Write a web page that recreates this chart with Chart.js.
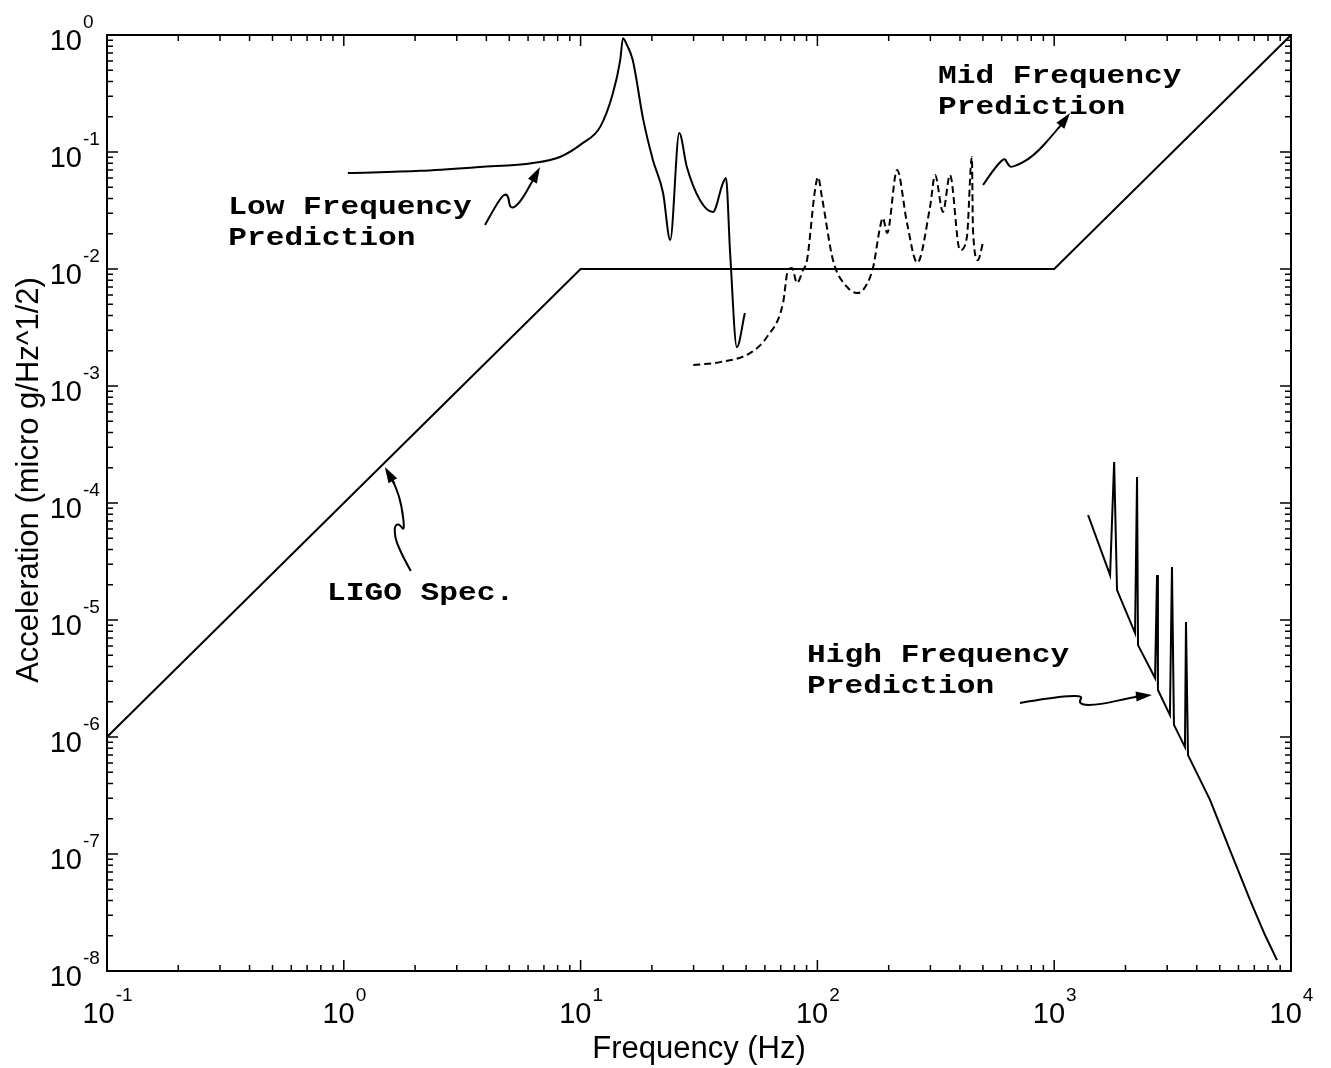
<!DOCTYPE html>
<html>
<head>
<meta charset="utf-8">
<script src="https://cdn.jsdelivr.net/npm/chart.js@4.4.1/dist/chart.umd.min.js"></script>
<style>
  body { margin: 0; background: #fff; }
  #wrap { width: 1331px; height: 1068px; }
</style>
</head>
<body>
<div id="wrap"><canvas id="psdChart" width="1331" height="1068"></canvas></div>
<script>
// LIGO spec line
const ligoFreq = [0.1, 10, 1000, 10000];
const ligoAcc = [1e-6, 1e-2, 1e-2, 1];

// low frequency prediction (solid)
const lowFreq = [1.04, 2.1, 3.76, 6.3, 8.18, 10.2, 12.1, 13.7, 14.7, 15.1, 15.7, 16.6, 18.4, 20.2, 22.3, 23.9, 26.1, 28.1, 31.9, 36.2, 39.9, 41.1, 42.8, 45.7, 49.4];
const lowAcc = [0.066, 0.069, 0.0744, 0.0805, 0.0906, 0.119, 0.164, 0.319, 0.611, 0.94, 0.82, 0.611, 0.188, 0.0855, 0.0446, 0.0177, 0.145, 0.0744, 0.0389, 0.0307, 0.0543, 0.060, 0.0137, 0.00215, 0.0042];

// mid frequency prediction (dashed)
const midFreq = [29.9, 38.8, 51.9, 61.2, 71.6, 75.1, 78.1, 82.0, 86.9, 90.4, 97.7, 100.6, 104.5, 116.4, 133.4, 147, 156, 172, 184, 189, 197, 217, 239, 264, 299, 314, 339, 363, 400, 428, 449, 454, 476, 500];
const midAcc = [0.00151, 0.0016, 0.00191, 0.00262, 0.00512, 0.0098, 0.0102, 0.00759, 0.0098, 0.0119, 0.0473, 0.0611, 0.0412, 0.0119, 0.00702, 0.00624, 0.00662, 0.0104, 0.0229, 0.0273, 0.0203, 0.0702, 0.0247, 0.0113, 0.0339, 0.0636, 0.0307, 0.0636, 0.0145, 0.0188, 0.0906, 0.0216, 0.0119, 0.0167];

// high frequency prediction
const highFreq = [1390, 1722, 1791, 1842, 2195, 2238, 2259, 2666, 2718, 2742, 3081, 3143, 3204, 3566, 3602, 3673, 4550, 5525, 6710, 7765, 8730];
const highAcc = [7.9e-5, 2.42e-5, 2.24e-4, 1.8e-5, 7.74e-6, 1.67e-4, 6.1e-6, 3.19e-6, 2.42e-5, 2.52e-6, 1.54e-6, 2.84e-5, 1.27e-6, 8.2e-7, 9.6e-6, 7.0e-7, 2.9e-7, 1.08e-7, 4.05e-8, 2.03e-8, 1.24e-8];

// tick labels
const xTickValues = [0.1, 1, 10, 100, 1000, 10000];
const xTickExps = ['-1', '0', '1', '2', '3', '4'];
const yTickValues = [1, 1e-1, 1e-2, 1e-3, 1e-4, 1e-5, 1e-6, 1e-7, 1e-8];
const yTickExps = ['0', '-1', '-2', '-3', '-4', '-5', '-6', '-7', '-8'];

// annotations: text and arrow tip in data units
const noteLines = [
  ['Low Frequency', 'Prediction'],
  ['Mid Frequency', 'Prediction'],
  ['LIGO Spec.'],
  ['High Frequency', 'Prediction']
];
const noteTextAt = [[0.325, 0.0295], [323, 0.389], [0.849, 1.48e-5], [90.4, 4.38e-6]];
const noteTipAt = [[6.74, 0.0744], [1167, 0.2155], [1.49, 2.03e-4], [2588, 2.29e-6]];

const pts = (xs, ys) => xs.map((x, i) => ({x: x, y: ys[i]}));

// squiggle shapes, pixel offsets from tip
const squiggles = [
  [[-55, 58], [-40, 30], [-32, 26], [-30, 43], [-20, 36], [-7, 13], [0, 0]],
  [[-87, 72], [-67, 42], [-62, 52], [-58, 55], [-37, 44], [-13, 17], [0, 0]],
  [[26, 104], [12, 79], [9, 60], [14, 56], [20, 65], [17, 39], [11, 19], [0, 0]],
  [[-132, 8], [-67, -3], [-75, 10], [-52, 10], [-19, 2], [0, 0]]
];

const decor = {
  id: 'decor',
  afterDraw(chart) {
    const ctx = chart.ctx;
    const a = chart.chartArea;
    const xs = chart.scales.x, ys = chart.scales.y;
    ctx.save();
    ctx.strokeStyle = '#000';
    ctx.fillStyle = '#000';
    ctx.lineWidth = 2;
    ctx.strokeRect(a.left, a.top, a.right - a.left, a.bottom - a.top);

    // inward ticks on all four sides
    ctx.lineWidth = 1.5;
    ctx.beginPath();
    for (let d = -1; d <= 4; d++) {
      for (let k = 1; k <= 9; k++) {
        const v = k * Math.pow(10, d);
        if (v > 10000) break;
        const px = xs.getPixelForValue(v);
        const len = k === 1 ? 11 : 6;
        ctx.moveTo(px, a.bottom); ctx.lineTo(px, a.bottom - len);
        ctx.moveTo(px, a.top); ctx.lineTo(px, a.top + len);
      }
    }
    for (let d = -8; d <= 0; d++) {
      for (let k = 1; k <= 9; k++) {
        const v = k * Math.pow(10, d);
        if (v > 1) break;
        const py = ys.getPixelForValue(v);
        const len = k === 1 ? 11 : 6;
        ctx.moveTo(a.left, py); ctx.lineTo(a.left + len, py);
        ctx.moveTo(a.right, py); ctx.lineTo(a.right - len, py);
      }
    }
    ctx.stroke();

    // tick labels (10 with superscript)
    const baseFont = '29px "Liberation Sans", Arial, sans-serif';
    const expFont = '19px "Liberation Sans", Arial, sans-serif';
    ctx.textBaseline = 'alphabetic';
    xTickValues.forEach((v, i) => {
      const px = xs.getPixelForValue(v);
      ctx.font = baseFont;
      const w1 = ctx.measureText('10').width;
      ctx.font = expFont;
      const w2 = ctx.measureText(xTickExps[i]).width;
      const x0 = px - (w1 + w2) / 2;
      ctx.font = baseFont;
      ctx.textAlign = 'left';
      ctx.fillText('10', x0, a.bottom + 52);
      ctx.font = expFont;
      ctx.fillText(xTickExps[i], x0 + w1 + 1, a.bottom + 30);
    });
    yTickValues.forEach((v, i) => {
      const py = ys.getPixelForValue(v);
      ctx.font = baseFont;
      ctx.textAlign = 'right';
      ctx.fillText('10', a.left - 25, py + 15);
      ctx.font = expFont;
      ctx.textAlign = 'left';
      ctx.fillText(yTickExps[i], a.left - 24, py - 7);
    });

    // axis titles
    ctx.font = '31px "Liberation Sans", Arial, sans-serif';
    ctx.textAlign = 'center';
    ctx.fillText('Frequency (Hz)', (a.left + a.right) / 2, a.bottom + 87);
    ctx.save();
    ctx.translate(38, 480);
    ctx.rotate(-Math.PI / 2);
    ctx.fillText('Acceleration (micro g/Hz^1/2)', 0, 0);
    ctx.restore();

    // annotation text (typewriter style) and squiggly arrows
    ctx.font = 'bold 26px "Liberation Mono", "DejaVu Sans Mono", monospace';
    ctx.textAlign = 'left';
    noteLines.forEach((lines, i) => {
      const tx = xs.getPixelForValue(noteTextAt[i][0]);
      const ty = ys.getPixelForValue(noteTextAt[i][1]);
      lines.forEach((s, j) => {
        ctx.save();
        ctx.translate(tx, ty + j * 31);
        ctx.scale(1.2, 1);
        ctx.fillText(s, 0, 0);
        ctx.restore();
      });
      const tipX = xs.getPixelForValue(noteTipAt[i][0]);
      const tipY = ys.getPixelForValue(noteTipAt[i][1]);
      const path = squiggles[i];
      ctx.lineWidth = 2;
      ctx.beginPath();
      ctx.moveTo(tipX + path[0][0], tipY + path[0][1]);
      for (let k = 1; k < path.length - 1; k++) {
        const mx = (path[k][0] + path[k + 1][0]) / 2, my = (path[k][1] + path[k + 1][1]) / 2;
        ctx.quadraticCurveTo(tipX + path[k][0], tipY + path[k][1], tipX + mx, tipY + my);
      }
      const last = path[path.length - 2];
      const hx = tipX + last[0] + (0 - last[0]) * 0.1, hy = tipY + last[1] + (0 - last[1]) * 0.1;
      ctx.lineTo(hx, hy);
      ctx.stroke();
      // arrowhead
      const ang = Math.atan2(-last[1], -last[0]);
      ctx.beginPath();
      ctx.moveTo(tipX, tipY);
      ctx.lineTo(tipX - 16 * Math.cos(ang) + 5 * Math.sin(ang), tipY - 16 * Math.sin(ang) - 5 * Math.cos(ang));
      ctx.lineTo(tipX - 16 * Math.cos(ang) - 5 * Math.sin(ang), tipY - 16 * Math.sin(ang) + 5 * Math.cos(ang));
      ctx.closePath();
      ctx.fill();
    });
    ctx.restore();
  }
};

new Chart(document.getElementById('psdChart').getContext('2d'), {
  type: 'line',
  data: {
    datasets: [
      { label: 'LIGO Spec.', data: pts(ligoFreq, ligoAcc), borderColor: '#000', borderWidth: 2, pointRadius: 0, tension: 0 },
      { label: 'Low Frequency Prediction', data: pts(lowFreq, lowAcc), borderColor: '#000', borderWidth: 2, pointRadius: 0, cubicInterpolationMode: 'monotone' },
      { label: 'Mid Frequency Prediction', data: pts(midFreq, midAcc), borderColor: '#000', borderWidth: 2, borderDash: [7, 4], pointRadius: 0, cubicInterpolationMode: 'monotone' },
      { label: 'High Frequency Prediction', data: pts(highFreq, highAcc), borderColor: '#000', borderWidth: 2, pointRadius: 0, tension: 0 }
    ]
  },
  options: {
    responsive: false,
    animation: false,
    layout: { padding: { left: 107, top: 35, right: 40, bottom: 97 } },
    plugins: { legend: { display: false }, tooltip: { enabled: false } },
    scales: {
      x: { type: 'logarithmic', min: 0.1, max: 10000, display: false },
      y: { type: 'logarithmic', min: 1e-8, max: 1, display: false }
    }
  },
  plugins: [decor]
});
</script>
</body>
</html>
